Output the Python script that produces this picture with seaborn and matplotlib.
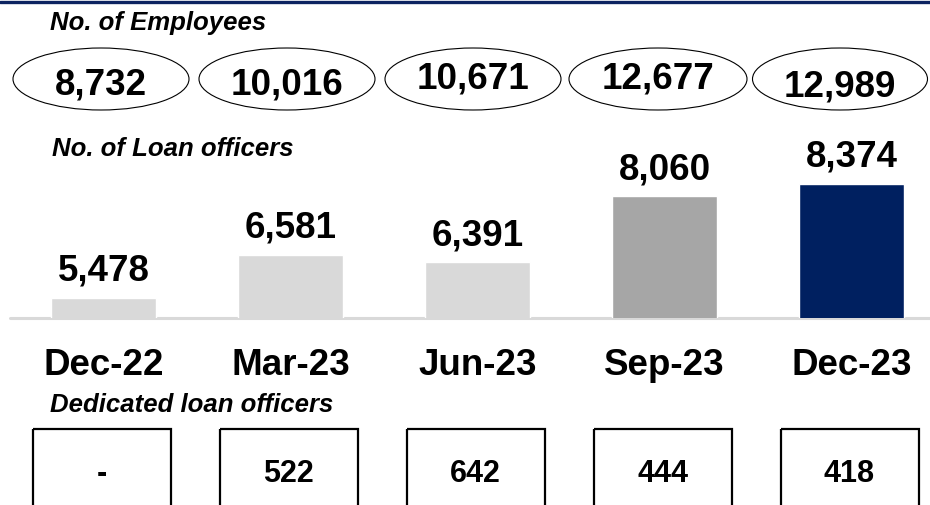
import seaborn as sns
import matplotlib.pyplot as plt
import pandas as pd
from matplotlib.patches import Ellipse, Rectangle

# chart data
quarters = ["Dec-22", "Mar-23", "Jun-23", "Sep-23", "Dec-23"]
employees = [8732, 10016, 10671, 12677, 12989]
loan_officers = [5478, 6581, 6391, 8060, 8374]
dedicated_officers = [None, 522, 642, 444, 418]
bar_colors = ["#d9d9d9", "#d9d9d9", "#d9d9d9", "#a6a6a6", "#002060"]

sns.set_theme(style="white")
plt.rcParams["font.family"] = ["Liberation Sans", "DejaVu Sans"]
plt.rcParams["text.color"] = "black"

W, H = 930, 505
fig = plt.figure(figsize=(W / 100, H / 100), dpi=100)

# x mapping: category i sits at pixel 103.5 + 187 * i
step, x0 = 187.0, 103.5
xlim = ((0 - x0) / step, (W - x0) / step)

# bar axes: baseline at pixel row 318, top at row 130
base_px, top_px = 318, 130
ymin, px_per_unit = 4970, 0.03937
ymax = ymin + (base_px - top_px) / px_per_unit
ax = fig.add_axes([0, (H - base_px) / H, 1, (base_px - top_px) / H])

df = pd.DataFrame({"quarter": quarters, "officers": loan_officers})
sns.barplot(data=df, x="quarter", y="officers", hue="quarter",
            palette=bar_colors, width=0.56, legend=False, ax=ax,
            saturation=1)
ax.set_xlim(*xlim)
ax.set_ylim(ymin, ymax)
for c in ax.containers:
    ax.bar_label(c, fmt="{:,.0f}", padding=6.5, fontsize=26.5,
                 fontweight="bold", color="black")
ax.axhline(ymin, xmin=10 / W, xmax=1, color="#d9d9d9", lw=2.2,
           clip_on=False, zorder=0)
ax.set_axis_off()

# overlay axes in pixel rows for the annotation shapes
ov = fig.add_axes([0, 0, 1, 1], zorder=3)
ov.set_xlim(*xlim)
ov.set_ylim(H, 0)
ov.set_axis_off()

ov.axhline(1.5, color="#0c2461", lw=2.4)

title_kw = dict(fontsize=18.5, fontweight="bold", style="italic",
                va="baseline", ha="left", color="black")
ov.text((50 - x0) / step, 30, "No. of Employees", **title_kw)
ov.text((52 - x0) / step, 156, "No. of Loan officers", **title_kw)
ov.text((50 - x0) / step, 412, "Dedicated loan officers", **title_kw)

# employee ellipses
ell_dx = [-2.5, -3.5, -4.5, -6.5, -11.5]
ell_w = [176, 176, 176, 178, 175]
num_base = [95, 95, 89, 89, 97]
for i, n in enumerate(employees):
    cx = i + ell_dx[i] / step
    ov.add_patch(Ellipse((cx, 79), ell_w[i] / step, 62, fill=False,
                         ec="black", lw=0.8))
    ov.text(cx, num_base[i], f"{n:,}", ha="center", va="baseline",
            fontsize=26.5, fontweight="bold", color="black")

# quarter labels
for i, q in enumerate(quarters):
    ov.text(i, 375, q, ha="center", va="baseline", fontsize=26.5,
            fontweight="bold", color="black")

# dedicated officer boxes
box_w = 138 / step
for i, d in enumerate(dedicated_officers):
    cx = i - 2 / step
    ov.add_patch(Rectangle((cx - box_w / 2, 429), box_w, 100, fill=False,
                           ec="black", lw=1.6))
    label = "-" if d is None else f"{d:,}"
    ov.text(cx, 482, label, ha="center", va="baseline", fontsize=22,
            fontweight="bold", color="black")

fig.savefig("out.png", dpi=100)
